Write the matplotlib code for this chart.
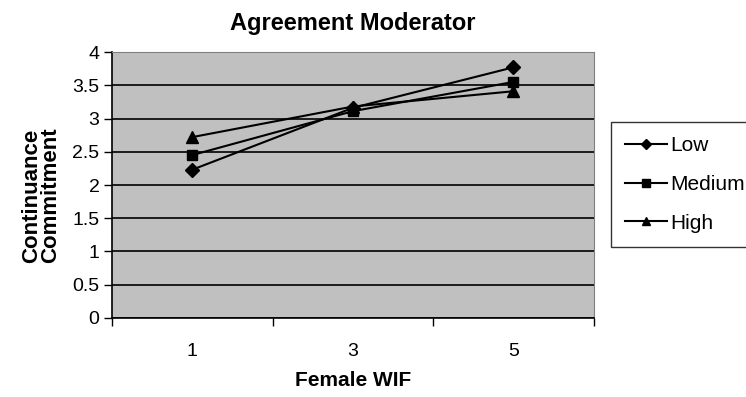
import matplotlib.pyplot as plt
import numpy as np

plt.rcParams['font.family'] = ['Liberation Sans', 'DejaVu Sans']

categories = ["1", "3", "5"]
low = [2.23, 3.16, 3.77]
medium = [2.45, 3.11, 3.55]
high = [2.72, 3.18, 3.41]

fig = plt.figure(figsize=(7.46, 3.97), dpi=100)
ax = fig.add_axes([0.150, 0.199, 0.646, 0.670])
ax.set_facecolor('#c0c0c0')

x = np.arange(len(categories)) + 0.5
ax.plot(x, low, color='black', marker='D', markersize=7, lw=1.5, label='Low')
ax.plot(x, medium, color='black', marker='s', markersize=7, lw=1.5, label='Medium')
ax.plot(x, high, color='black', marker='^', markersize=8, lw=1.5, label='High')

ax.set_xlim(0, 3)
ax.set_ylim(0, 4)
ax.set_yticks(np.arange(0, 4.01, 0.5))
ax.set_yticklabels(['0', '0.5', '1', '1.5', '2', '2.5', '3', '3.5', '4'])
ax.set_xticks([0, 1, 2, 3])
ax.set_xticklabels([])
ax.set_xticks(x, minor=True)
ax.set_xticklabels(categories, minor=True)
ax.tick_params(axis='x', which='minor', length=0, pad=18, labelsize=14)
ax.tick_params(axis='x', which='major', length=6, direction='out', width=1)
ax.tick_params(axis='y', length=6, direction='out', width=1, labelsize=14, pad=3)

ax.yaxis.grid(True, color='black', lw=1.2)
ax.set_axisbelow(True)
for s in ['top', 'right']:
    ax.spines[s].set_color('#808080')
for s in ['left', 'bottom']:
    ax.spines[s].set_color('black')
    ax.spines[s].set_linewidth(1.2)

ax.set_title('Agreement Moderator', fontsize=17, fontweight='bold', pad=16)
ax.set_xlabel('Female WIF', fontsize=15, fontweight='bold')
ax.xaxis.set_label_coords(0.5, -0.2)
ax.set_ylabel('Continuance\nCommitment', fontsize=16, fontweight='bold',
              linespacing=0.85)
ax.yaxis.set_label_coords(-0.106, 0.46)

leg = fig.legend(*ax.get_legend_handles_labels(), loc='upper left',
                 bbox_to_anchor=(611 / 746, 1 - 122 / 397), borderaxespad=0,
                 frameon=True, fancybox=False, edgecolor='black', fontsize=15,
                 handlelength=2.0, markerscale=0.8, borderpad=0.68,
                 labelspacing=0.95, handletextpad=0.15)
leg.get_frame().set_linewidth(1.0)

plt.savefig('out.png', dpi=100)
